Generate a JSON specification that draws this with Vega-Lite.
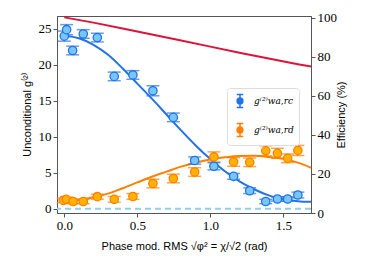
{
  "$schema": "https://vega.github.io/schema/vega-lite/v6.json",
  "autosize": {"type": "none"},
  "padding": {"left": 57, "top": 16, "right": 63, "bottom": 67},
  "width": 254,
  "height": 197,
  "config": {
    "view": {"stroke": "#555", "strokeWidth": 1},
    "axis": {"labelFont": "Liberation Serif", "labelFontSize": 13, "labelColor": "#000", "titleFont": "Liberation Sans", "titleFontSize": 11, "titleFontWeight": "normal", "titleColor": "#000", "grid": false, "domainColor": "#555", "tickColor": "#555", "tickSize": 4}
  },
  "datasets": {
    "pts": [
      {"phi": 0.0, "g": 24.0, "err": 0.7, "series": "rc"},
      {"phi": 0.016, "g": 24.9, "err": 0.7, "series": "rc"},
      {"phi": 0.057, "g": 22.0, "err": 0.6, "series": "rc"},
      {"phi": 0.13, "g": 24.3, "err": 0.6, "series": "rc"},
      {"phi": 0.226, "g": 23.8, "err": 0.6, "series": "rc"},
      {"phi": 0.342, "g": 18.4, "err": 0.6, "series": "rc"},
      {"phi": 0.47, "g": 18.6, "err": 0.6, "series": "rc"},
      {"phi": 0.607, "g": 16.4, "err": 0.7, "series": "rc"},
      {"phi": 0.747, "g": 12.7, "err": 0.6, "series": "rc"},
      {"phi": 0.893, "g": 6.7, "err": 0.5, "series": "rc"},
      {"phi": 1.025, "g": 5.9, "err": 0.5, "series": "rc"},
      {"phi": 1.16, "g": 4.5, "err": 0.4, "series": "rc"},
      {"phi": 1.27, "g": 2.5, "err": 0.4, "series": "rc"},
      {"phi": 1.38, "g": 1.0, "err": 0.3, "series": "rc"},
      {"phi": 1.46, "g": 1.35, "err": 0.3, "series": "rc"},
      {"phi": 1.53, "g": 1.35, "err": 0.3, "series": "rc"},
      {"phi": 1.6, "g": 1.9, "err": 0.4, "series": "rc"},
      {"phi": -0.007, "g": 1.15, "err": 0.3, "series": "rd"},
      {"phi": 0.014, "g": 1.3, "err": 0.3, "series": "rd"},
      {"phi": 0.06, "g": 1.0, "err": 0.3, "series": "rd"},
      {"phi": 0.13, "g": 1.0, "err": 0.3, "series": "rd"},
      {"phi": 0.226, "g": 1.67, "err": 0.35, "series": "rd"},
      {"phi": 0.342, "g": 1.3, "err": 0.4, "series": "rd"},
      {"phi": 0.47, "g": 1.7, "err": 0.4, "series": "rd"},
      {"phi": 0.607, "g": 3.5, "err": 0.6, "series": "rd"},
      {"phi": 0.747, "g": 4.2, "err": 0.6, "series": "rd"},
      {"phi": 0.893, "g": 5.1, "err": 0.6, "series": "rd"},
      {"phi": 1.025, "g": 7.2, "err": 0.7, "series": "rd"},
      {"phi": 1.16, "g": 6.5, "err": 0.6, "series": "rd"},
      {"phi": 1.27, "g": 6.45, "err": 0.6, "series": "rd"},
      {"phi": 1.38, "g": 8.05, "err": 0.7, "series": "rd"},
      {"phi": 1.46, "g": 7.7, "err": 0.7, "series": "rd"},
      {"phi": 1.53, "g": 7.0, "err": 0.6, "series": "rd"},
      {"phi": 1.6, "g": 8.1, "err": 0.7, "series": "rd"}
    ],
    "fit": [
      {"phi": 0.0, "g": 24.1, "series": "rc"},
      {"phi": 0.1, "g": 23.7, "series": "rc"},
      {"phi": 0.2, "g": 22.8, "series": "rc"},
      {"phi": 0.3, "g": 21.4, "series": "rc"},
      {"phi": 0.4, "g": 19.5, "series": "rc"},
      {"phi": 0.5, "g": 17.4, "series": "rc"},
      {"phi": 0.6, "g": 15.3, "series": "rc"},
      {"phi": 0.7, "g": 13.1, "series": "rc"},
      {"phi": 0.8, "g": 10.9, "series": "rc"},
      {"phi": 0.9, "g": 8.8, "series": "rc"},
      {"phi": 1.0, "g": 6.9, "series": "rc"},
      {"phi": 1.1, "g": 5.2, "series": "rc"},
      {"phi": 1.2, "g": 3.8, "series": "rc"},
      {"phi": 1.3, "g": 2.7, "series": "rc"},
      {"phi": 1.4, "g": 1.85, "series": "rc"},
      {"phi": 1.5, "g": 1.35, "series": "rc"},
      {"phi": 1.6, "g": 1.05, "series": "rc"},
      {"phi": 1.69, "g": 0.95, "series": "rc"},
      {"phi": 0.0, "g": 1.1, "series": "rd"},
      {"phi": 0.1, "g": 1.25, "series": "rd"},
      {"phi": 0.2, "g": 1.6, "series": "rd"},
      {"phi": 0.3, "g": 2.1, "series": "rd"},
      {"phi": 0.4, "g": 2.85, "series": "rd"},
      {"phi": 0.5, "g": 3.65, "series": "rd"},
      {"phi": 0.6, "g": 4.45, "series": "rd"},
      {"phi": 0.7, "g": 5.15, "series": "rd"},
      {"phi": 0.8, "g": 5.85, "series": "rd"},
      {"phi": 0.9, "g": 6.4, "series": "rd"},
      {"phi": 1.0, "g": 6.85, "series": "rd"},
      {"phi": 1.1, "g": 7.15, "series": "rd"},
      {"phi": 1.2, "g": 7.33, "series": "rd"},
      {"phi": 1.3, "g": 7.35, "series": "rd"},
      {"phi": 1.4, "g": 7.2, "series": "rd"},
      {"phi": 1.5, "g": 6.95, "series": "rd"},
      {"phi": 1.6, "g": 6.4, "series": "rd"},
      {"phi": 1.69, "g": 5.7, "series": "rd"}
    ],
    "eff": [
      {"phi": 0.0, "eff": 100.3},
      {"phi": 0.2, "eff": 97.6},
      {"phi": 0.4, "eff": 94.6},
      {"phi": 0.6, "eff": 91.5},
      {"phi": 0.8, "eff": 88.4},
      {"phi": 1.0, "eff": 85.3},
      {"phi": 1.2, "eff": 82.2},
      {"phi": 1.4, "eff": 79.2},
      {"phi": 1.6, "eff": 76.3},
      {"phi": 1.69, "eff": 75.1}
    ]
  },
  "layer": [
    {
      "encoding": {
        "x": {"field": "phi", "type": "quantitative", "scale": {"domain": [-0.05, 1.69], "nice": false, "zero": false}, "axis": {"values": [0, 0.5, 1, 1.5], "format": ".1f", "title": "Phase mod. RMS √φ² = χ/√2 (rad)", "titlePadding": 8}},
        "y": {"field": "g", "type": "quantitative", "scale": {"domain": [-0.6, 26.8], "nice": false, "zero": false}, "axis": {"values": [0, 5, 10, 15, 20, 25], "title": "Unconditional g⁽²⁾", "titlePadding": 6}},
        "color": {"field": "series", "type": "nominal", "scale": {"domain": ["rc", "rd"], "range": ["#2273e6", "#ff8000"]},
          "legend": {"title": null, "orient": "none", "legendX": 170, "legendY": 72, "labelExpr": "datum.value == 'rc' ? 'g⁽²⁾wa,rc' : 'g⁽²⁾wa,rd'", "labelFont": "DejaVu Serif", "labelFontStyle": "italic", "labelFontSize": 9, "symbolType": "M-0.45,-0.9H0.45M0,-0.9V-0.4M0,0.4V0.9M-0.45,0.9H0.45M0.4,0A0.4,0.4 0 1 1 -0.4,0A0.4,0.4 0 1 1 0.4,0Z", "symbolSize": 210, "symbolStrokeWidth": 1.5, "symbolOpacity": 1, "rowPadding": 9, "labelOffset": 6, "padding": 5, "strokeColor": "#ddd", "fillColor": "#fff", "cornerRadius": 3,
            "encode": {"symbols": {"update": {"fill": {"scale": "fill", "field": "value"}, "stroke": {"scale": "color", "field": "value"}, "opacity": {"value": 1}}}}}}
      },
      "layer": [
        {
          "data": {"values": [{"g": 0}]},
          "mark": {"type": "rule", "color": "#8ecff0", "strokeWidth": 2, "strokeDash": [6, 4]},
          "encoding": {"x": null, "color": null}
        },
        {
          "data": {"name": "fit"},
          "mark": {"type": "line", "strokeWidth": 2, "interpolate": "monotone"},
          "encoding": {}
        },
        {
          "data": {"name": "pts"},
          "mark": {"type": "errorbar", "thickness": 1.5, "ticks": {"size": 13, "thickness": 1.5}},
          "encoding": {"yError": {"field": "err"}}
        },
        {
          "data": {"name": "pts"},
          "mark": {"type": "point", "filled": false, "size": 70, "strokeWidth": 1.3, "opacity": 1, "fillOpacity": 1},
          "encoding": {
            "fill": {"field": "series", "type": "nominal", "scale": {"domain": ["rc", "rd"], "range": ["#78c6f6", "#ffb300"]}, "legend": null}
          }
        }
      ]
    },
    {
      "data": {"name": "eff"},
      "mark": {"type": "line", "color": "#dc143c", "strokeWidth": 2},
      "encoding": {
        "x": {"field": "phi", "type": "quantitative"},
        "y": {"field": "eff", "type": "quantitative", "scale": {"domain": [0, 101], "nice": false}, "axis": {"orient": "right", "values": [0, 20, 40, 60, 80, 100], "title": "Efficiency (%)", "titleAngle": 270, "titlePadding": 10}}
      }
    }
  ],
  "resolve": {"scale": {"y": "independent"}}
}
